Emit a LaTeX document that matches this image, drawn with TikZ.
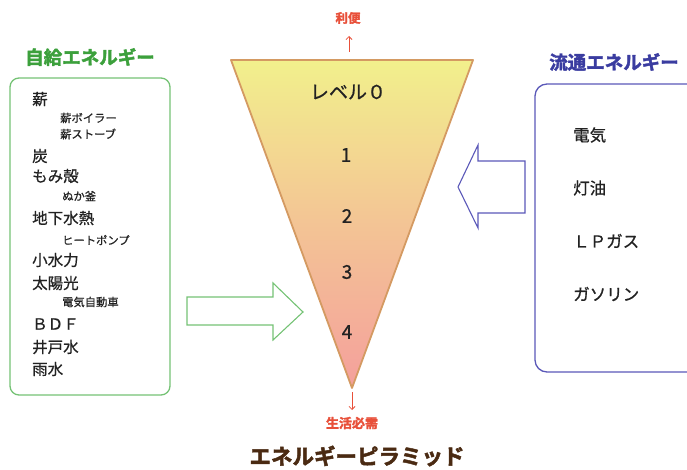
\documentclass[tikz,border=0pt]{standalone}
\usepackage{fontspec}
\newfontfamily\cjk{Noto Sans CJK JP}[FakeBold=0.8]
\newfontfamily\cjkb{Noto Sans CJK JP Bold}[FakeBold=2.2]
\usetikzlibrary{arrows.meta}
\definecolor{gtitle}{HTML}{3CA03C}
\definecolor{gbord}{HTML}{74C274}
\definecolor{btitle}{HTML}{3A3CA0}
\definecolor{bbord}{HTML}{5A58B8}
\definecolor{redt}{HTML}{E8503A}
\definecolor{brownt}{HTML}{4A2A12}
\definecolor{tritop}{HTML}{F2F08C}
\definecolor{tribot}{HTML}{F4A09C}
\definecolor{tribord}{HTML}{D49A62}
\definecolor{txt}{HTML}{222222}
\begin{document}
\begin{tikzpicture}[x=1pt,y=-1pt,
  item/.style={font=\cjk\fontsize{15.5}{16}\selectfont, text=txt, anchor=west, inner sep=0pt},
  sub/.style={font=\cjk\fontsize{11.3}{12}\selectfont, text=txt, anchor=west, inner sep=0pt},
  ritem/.style={font=\cjk\fontsize{16.5}{17}\selectfont, text=txt, anchor=west, inner sep=0pt},
  lvl/.style={font=\cjk\fontsize{19}{20}\selectfont, text=txt, inner sep=0pt},
  ttl/.style={font=\cjkb\fontsize{18.5}{19}\selectfont, inner sep=0pt}]
\useasboundingbox (0,0) rectangle (687,470);
\clip (0,0) rectangle (687,470);
% triangle
\shade[top color=tritop, bottom color=tribot, middle color=tritop!45!tribot]
  (231,60) -- (473,60) -- (352,388) -- cycle;
\draw[tribord, line width=1.8pt, line join=round] (231,60) -- (473,60) -- (352,388) -- cycle;
\coordinate (apextop) at (349,52);
\coordinate (apexbot) at (352,392);
% triangle labels
\node[lvl] (l0) at (348,92) {レベル０};
\node[lvl] (l1) at (346,155) {1};
\node[lvl] (l2) at (347,216) {2};
\node[lvl] (l3) at (347,272) {3};
\node[lvl] (l4) at (347,332) {4};
% top / bottom
\node[font=\cjkb\fontsize{12.5}{13}\selectfont, text=redt, inner sep=0pt] (ben) at (348,18) {利便};
\draw[redt, line width=0.8pt, -{Straight Barb[length=3pt,width=6pt]}] (apextop) -- (349,36);
\node[font=\cjkb\fontsize{13}{14}\selectfont, text=redt, inner sep=0pt] (sei) at (352,423) {生活必需};
\draw[redt, line width=0.8pt, -{Straight Barb[length=3pt,width=6pt]}] (apexbot) -- (352,410);
\node[font=\cjkb\fontsize{21.5}{22}\selectfont, text=brownt, inner sep=0pt] (main) at (357,456) {エネルギーピラミッド};
% left box
\node[ttl, text=gtitle] (lt) at (90,57) {自給エネルギー};
\draw[gbord, line width=1.3pt, rounded corners=9pt] (10,78) rectangle (170,395);
\node[item] (a1) at (32,99) {薪};
\node[sub] (a2) at (60,118) {薪ボイラー};
\node[sub] (a3) at (60,134) {薪ストーブ};
\node[item] (a4) at (32,156) {炭};
\node[item] (a5) at (32,176) {もみ殻};
\node[sub] (a6) at (62,196) {ぬか釜};
\node[item] (a7) at (32,218) {地下水熱};
\node[sub] (a8) at (62,240) {ヒートポンプ};
\node[item] (a9) at (32,260) {小水力};
\node[item] (a10) at (32,283) {太陽光};
\node[sub] (a11) at (62,302) {電気自動車};
\node[item] (a12) at (32,324) {ＢＤＦ};
\node[item] (a13) at (32,347) {井戸水};
\node[item] (a14) at (32,369) {雨水};
% right box
\node[ttl, text=btitle] (rt) at (614,62) {流通エネルギー};
\draw[bbord, line width=1.3pt, rounded corners=12pt] (535,84) rectangle (720,372);
\node[ritem] (b1) at (573,135) {電気};
\node[ritem] (b2) at (573,188) {灯油};
\node[ritem] (b3) at (573,241) {ＬＰガス};
\node[ritem] (b4) at (573,294) {ガソリン};
% block arrows
\draw[gbord, line width=1.1pt, line join=miter]
  (187,297) -- (273,297) -- (273,283) -- (303,312) -- (273,340) -- (273,325) -- (187,325) -- cycle;
\draw[bbord, line width=1.1pt, line join=miter]
  (525,161) -- (478,161) -- (478,145) -- (458,187) -- (478,228) -- (478,213) -- (525,213) -- cycle;
\end{tikzpicture}
\end{document}
